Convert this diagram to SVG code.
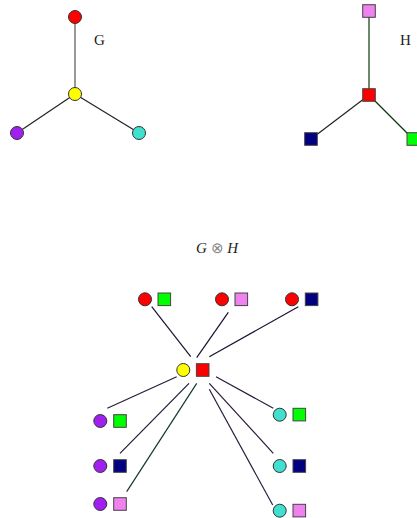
<svg xmlns="http://www.w3.org/2000/svg" width="417" height="518" viewBox="0 0 417 518">
<style>
.c{stroke:#333;stroke-width:1}
.s{stroke:#444;stroke-width:1}
.e{stroke-width:1.2;fill:none}
.lbl{font-family:"Liberation Serif",serif;font-size:15px;fill:#222}
</style>
<rect width="417" height="518" fill="#fff"/>
<g id="connectors">
<line class="e" x1="75" y1="17" x2="75" y2="94" stroke="#555"/>
<line class="e" x1="75" y1="94" x2="17" y2="133" stroke="#222"/>
<line class="e" x1="75" y1="94" x2="139" y2="133" stroke="#222"/>
<line class="e" x1="369" y1="11" x2="369" y2="95" stroke="#0a3a0a"/>
<line class="e" x1="369" y1="95" x2="311" y2="139" stroke="#222"/>
<line class="e" x1="369" y1="95" x2="413" y2="139" stroke="#0a3a0a"/>
<line class="e" x1="151.7" y1="306.7" x2="190.7" y2="356.7" stroke="#141432"/>
<line class="e" x1="228.3" y1="312.3" x2="196.7" y2="357.7" stroke="#141432"/>
<line class="e" x1="298.3" y1="306.7" x2="209.3" y2="356.7" stroke="#141432"/>
<line class="e" x1="176.7" y1="376.7" x2="107.3" y2="408.3" stroke="#2a1a3a"/>
<line class="e" x1="189" y1="383.3" x2="120" y2="453.3" stroke="#1a1a3a"/>
<line class="e" x1="196.7" y1="383.3" x2="126.7" y2="491.7" stroke="#0f3a30"/>
<line class="e" x1="216" y1="376.7" x2="273.3" y2="408.3" stroke="#2a1a3a"/>
<line class="e" x1="209.3" y1="383.3" x2="273.3" y2="453.3" stroke="#2a1a3a"/>
<line class="e" x1="209.3" y1="389.3" x2="272.7" y2="505" stroke="#2a1a3a"/>
</g>
<g id="G">
<g id="g-red"><circle class="c" cx="75" cy="17" r="6.5" fill="#ff0000"/></g>
<g id="g-yellow"><circle class="c" cx="75" cy="94" r="6.5" fill="#ffff00"/></g>
<g id="g-purple"><circle class="c" cx="17" cy="133" r="6.5" fill="#a020f0"/></g>
<g id="g-cyan"><circle class="c" cx="139" cy="133" r="6.5" fill="#40e0d0"/></g>
<text class="lbl" x="94" y="45">G</text>
</g>
<g id="H">
<g id="h-pink"><rect class="s" x="362.7" y="4.7" width="12.6" height="12.6" fill="#ee82ee"/></g>
<g id="h-red"><rect class="s" x="362.7" y="88.7" width="12.6" height="12.6" fill="#ff0000"/></g>
<g id="h-navy"><rect class="s" x="304.7" y="132.7" width="12.6" height="12.6" fill="#000080"/></g>
<g id="h-green"><rect class="s" x="407" y="132.7" width="12.6" height="12.6" fill="#00ff00"/></g>
<text class="lbl" x="400" y="45">H</text>
</g>
<text class="lbl" x="196" y="253" font-style="italic">G <tspan font-style="normal" fill="#888">⊗</tspan> H</text>
<g id="p-red-green"><circle class="c" cx="145" cy="299.3" r="6.5" fill="#ff0000"/><rect class="s" x="158" y="293" width="12.6" height="12.6" fill="#00ff00"/></g>
<g id="p-red-pink"><circle class="c" cx="222" cy="299.3" r="6.5" fill="#ff0000"/><rect class="s" x="235" y="293" width="12.6" height="12.6" fill="#ee82ee"/></g>
<g id="p-red-navy"><circle class="c" cx="292" cy="299.3" r="6.5" fill="#ff0000"/><rect class="s" x="305.3" y="293" width="12.6" height="12.6" fill="#000080"/></g>
<g id="p-yellow-red"><circle class="c" cx="183.3" cy="370" r="6.5" fill="#ffff00"/><rect class="s" x="196.4" y="363.7" width="12.6" height="12.6" fill="#ff0000"/></g>
<g id="p-purple-green"><circle class="c" cx="100.3" cy="421" r="6.5" fill="#a020f0"/><rect class="s" x="113.7" y="414.7" width="12.6" height="12.6" fill="#00ff00"/></g>
<g id="p-purple-navy"><circle class="c" cx="100.3" cy="466" r="6.5" fill="#a020f0"/><rect class="s" x="113.7" y="459.7" width="12.6" height="12.6" fill="#000080"/></g>
<g id="p-purple-pink"><circle class="c" cx="100.3" cy="504" r="6.5" fill="#a020f0"/><rect class="s" x="113.7" y="497.7" width="12.6" height="12.6" fill="#ee82ee"/></g>
<g id="p-cyan-green"><circle class="c" cx="279.7" cy="414.7" r="6.5" fill="#40e0d0"/><rect class="s" x="293" y="408.3" width="12.6" height="12.6" fill="#00ff00"/></g>
<g id="p-cyan-navy"><circle class="c" cx="279.7" cy="466" r="6.5" fill="#40e0d0"/><rect class="s" x="293" y="459.7" width="12.6" height="12.6" fill="#000080"/></g>
<g id="p-cyan-pink"><circle class="c" cx="279.7" cy="510.7" r="6.5" fill="#40e0d0"/><rect class="s" x="293" y="504.3" width="12.6" height="12.6" fill="#ee82ee"/></g>
</svg>
